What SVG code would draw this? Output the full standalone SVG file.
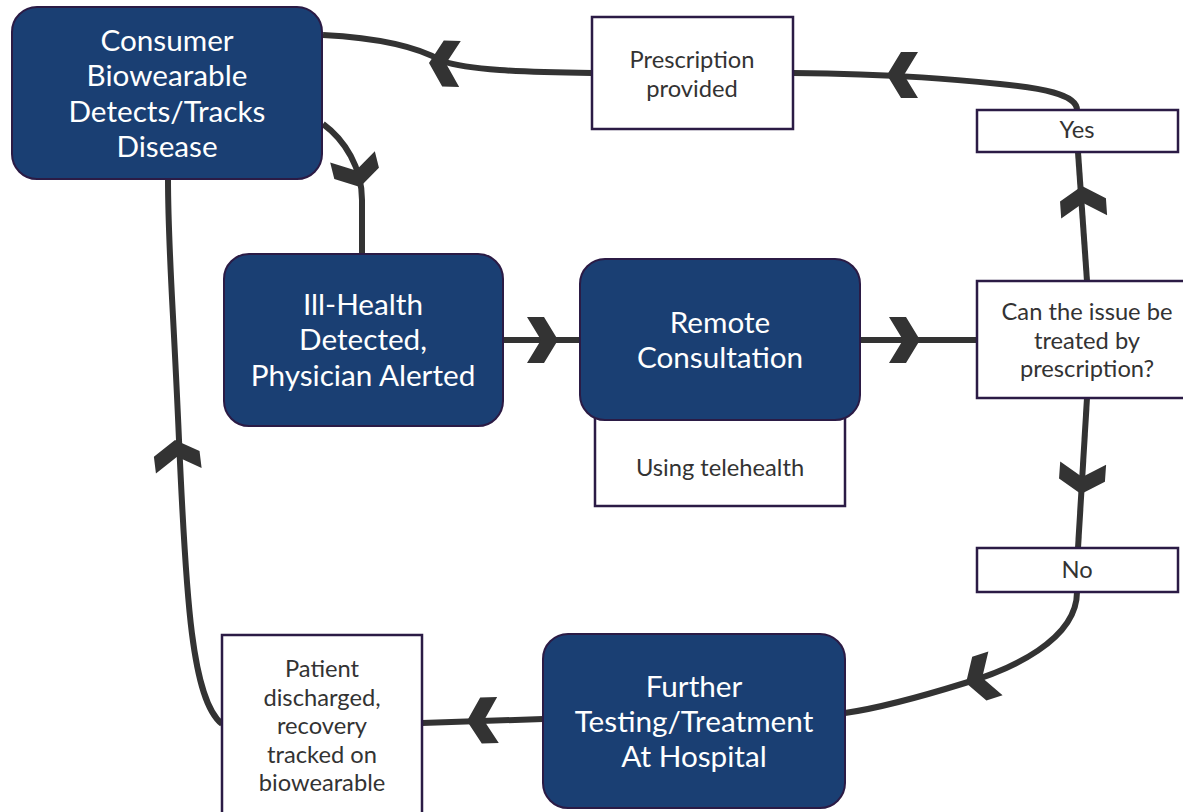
<svg xmlns="http://www.w3.org/2000/svg" width="1183" height="812" viewBox="0 0 1183 812">
  <style>
    .node rect { fill: #1a3f73; stroke: #2b1b45; stroke-width: 2; }
    .node text { fill: #ffffff; font-family: Lato, "Liberation Sans", sans-serif; font-size: 29.7px; text-anchor: middle; }
    .note rect { fill: #ffffff; stroke: #2b1b45; stroke-width: 2.5; }
    .note text { fill: #333333; font-family: Lato, "Liberation Sans", sans-serif; font-size: 23.7px; text-anchor: middle; }
    .link { fill: none; stroke: #333333; stroke-width: 6; }
    .head { fill: #333333; }
  </style>
  <defs>
    <!-- chevron arrowhead, tip at origin pointing along +x -->
    <polygon id="chev" points="-31,-23 -14,-23 0,0 -14,23 -31,23 -17,0"/>
  </defs>
  <rect width="1183" height="812" fill="#ffffff"/>

  <g id="connectors">
    <path class="link" d="M 592,73 C 520,72 468,70 442,61 C 418,47 380,38 323,35"/>
    <path class="link" d="M 323,124 C 345,140 362,168 362,200 L 362,254"/>
    <path class="link" d="M 503,340 L 580,340"/>
    <path class="link" d="M 860,340 L 977,340"/>
    <path class="link" d="M 1087,281 L 1078,152"/>
    <path class="link" d="M 1077,110 C 1077,94 1040,88 1000,84 C 960,80 900,74 793,73"/>
    <path class="link" d="M 1087,398 L 1078,548"/>
    <path class="link" d="M 1077,592 C 1077,640 1010,670 965,683 C 920,697 880,708 845,713"/>
    <path class="link" d="M 543,719 L 422,723"/>
    <path class="link" d="M 222,724 C 192,700 186,600 179,440 C 173,300 168,250 168,179"/>
    <use href="#chev" class="head" transform="translate(429,63) rotate(182)"/>
    <use href="#chev" class="head" transform="translate(360,187) rotate(76)"/>
    <use href="#chev" class="head" transform="translate(558,340)"/>
    <use href="#chev" class="head" transform="translate(920,340)"/>
    <use href="#chev" class="head" transform="translate(1082,186) rotate(-94)"/>
    <use href="#chev" class="head" transform="translate(887,75) rotate(180)"/>
    <use href="#chev" class="head" transform="translate(1081,494) rotate(94)"/>
    <use href="#chev" class="head" transform="translate(966,683) rotate(162)"/>
    <use href="#chev" class="head" transform="translate(467,721) rotate(178)"/>
    <use href="#chev" class="head" transform="translate(175,440) rotate(-97)"/>
  </g>

  <g id="telehealth" class="note">
    <rect x="595" y="400" width="250" height="106"/>
    <text x="720" y="476">Using telehealth</text>
  </g>

  <g id="consumer-biowearable" class="node">
    <rect x="12" y="7" width="310" height="172" rx="25"/>
    <text x="167" y="51">Consumer</text>
    <text x="167" y="86">Biowearable</text>
    <text x="167" y="122">Detects/Tracks</text>
    <text x="167" y="157">Disease</text>
  </g>

  <g id="ill-health" class="node">
    <rect x="224" y="254" width="279" height="172" rx="25"/>
    <text x="363" y="315">Ill-Health</text>
    <text x="363" y="350">Detected,</text>
    <text x="363" y="386">Physician Alerted</text>
  </g>

  <g id="remote-consultation" class="node">
    <rect x="580" y="259" width="280" height="161" rx="25"/>
    <text x="720" y="333">Remote</text>
    <text x="720" y="368">Consultation</text>
  </g>

  <g id="further-testing" class="node">
    <rect x="543" y="634" width="302" height="174" rx="25"/>
    <text x="694" y="697">Further</text>
    <text x="694" y="732">Testing/Treatment</text>
    <text x="694" y="767">At Hospital</text>
  </g>

  <g id="prescription-provided" class="note">
    <rect x="592" y="17" width="201" height="112"/>
    <text x="692" y="68">Prescription</text>
    <text x="692" y="97">provided</text>
  </g>

  <g id="yes" class="note">
    <rect x="977" y="110" width="201" height="42"/>
    <text x="1077" y="138">Yes</text>
  </g>

  <g id="decision" class="note">
    <rect x="977" y="281" width="220" height="117"/>
    <text x="1087" y="320">Can the issue be</text>
    <text x="1087" y="349">treated by</text>
    <text x="1087" y="377">prescription?</text>
  </g>

  <g id="no" class="note">
    <rect x="977" y="548" width="201" height="44"/>
    <text x="1077" y="578">No</text>
  </g>

  <g id="patient-discharged" class="note">
    <rect x="222" y="635" width="200" height="190"/>
    <text x="322" y="677">Patient</text>
    <text x="322" y="706">discharged,</text>
    <text x="322" y="734">recovery</text>
    <text x="322" y="763">tracked on</text>
    <text x="322" y="791">biowearable</text>
  </g>
</svg>
